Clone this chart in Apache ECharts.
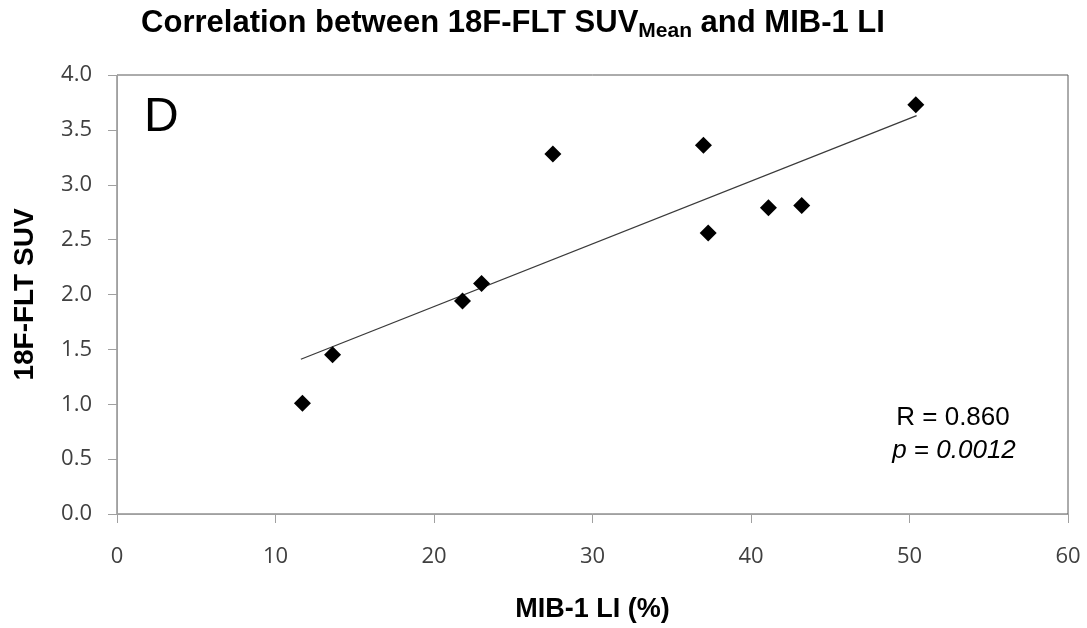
<!DOCTYPE html>
<html>
<head>
<meta charset="utf-8">
<script src="https://cdn.jsdelivr.net/npm/echarts@6/dist/echarts.min.js"></script>
<style>
html, body { margin: 0; padding: 0; background: #ffffff; }
#chart { width: 1087px; height: 628px; }
</style>
</head>
<body>
<div id="chart"></div>
<script>
// MIB-1 LI (%) for each case
const mibValues = [11.7, 13.6, 21.8, 23.0, 27.5, 37.0, 37.3, 41.1, 43.2, 50.4];
// 18F-FLT SUV (mean) for each case
const suvValues = [1.01, 1.45, 1.94, 2.10, 3.28, 3.36, 2.56, 2.79, 2.81, 3.73];
// Linear trend line end points
const trendX = [11.6, 50.45];
const trendY = [1.41, 3.63];

const titleMain = 'Correlation between 18F-FLT SUV';
const titleSub = 'Mean';
const titleEnd = ' and MIB-1 LI';
const xName = 'MIB-1 LI (%)';
const yName = '18F-FLT SUV';
const panelLetter = 'D';
const rText = 'R = 0.860';
const pLetter = 'p';
const pValue = '0.0012';

const ARIAL = '"Liberation Sans", Arial, sans-serif';
const TICKFONT = '"Open Sans", "Noto Sans", sans-serif';

const chart = echarts.init(document.getElementById('chart'));

const scatterData = mibValues.map((x, i) => [x, suvValues[i]]);
const trendData = trendX.map((x, i) => [x, trendY[i]]);

chart.setOption({
  backgroundColor: '#ffffff',
  animation: false,
  grid: {
    left: 117, right: 19, top: 75, bottom: 112,
    show: true, borderColor: '#595959', borderWidth: 1, backgroundColor: 'transparent'
  },
  xAxis: {
    type: 'value', min: 0, max: 60, interval: 10,
    name: xName, nameLocation: 'middle', nameGap: 82,
    nameTextStyle: { fontFamily: ARIAL, fontWeight: 'bold', fontSize: 27, color: '#000' },
    axisLine: { show: true, onZero: false, lineStyle: { color: '#a0a0a0', width: 1 } },
    axisTick: { show: true, length: 9, lineStyle: { color: '#a0a0a0' } },
    splitLine: { show: false },
    axisLabel: { fontFamily: TICKFONT, fontSize: 22, color: '#404040', margin: 32 }
  },
  yAxis: {
    type: 'value', min: 0, max: 4, interval: 0.5,
    name: yName, nameLocation: 'middle', nameGap: 78, nameRotate: 90,
    nameTextStyle: { fontFamily: ARIAL, fontWeight: 'bold', fontSize: 28, color: '#000' },
    axisLine: { show: true, onZero: false, lineStyle: { color: '#a0a0a0', width: 1 } },
    axisTick: { show: true, length: 9, lineStyle: { color: '#a0a0a0' } },
    splitLine: { show: false },
    axisLabel: {
      fontFamily: TICKFONT, fontSize: 22, color: '#404040', margin: 25,
      formatter: v => v.toFixed(1)
    }
  },
  series: [
    {
      type: 'line', data: trendData, showSymbol: false, symbol: 'none',
      lineStyle: { color: '#3a3a3a', width: 1.3 }, z: 2, silent: true
    },
    {
      type: 'scatter', data: scatterData, symbol: 'diamond', symbolSize: 17,
      itemStyle: { color: '#000000', opacity: 1 }, z: 3
    }
  ],
  graphic: [
    {
      type: 'text', x: 513, y: 4,
      style: {
        text: '{a|' + titleMain + '}{s|' + titleSub + '}{a|' + titleEnd + '}',
        textAlign: 'center', textVerticalAlign: 'top',
        rich: {
          a: { fontFamily: ARIAL, fontWeight: 'bold', fontSize: 31, lineHeight: 38, fill: '#000' },
          s: { fontFamily: ARIAL, fontWeight: 'bold', fontSize: 21, lineHeight: 21, verticalAlign: 'bottom', fill: '#000' }
        }
      }
    },
    {
      type: 'text', x: 144, y: 118,
      style: {
        text: panelLetter, fontFamily: ARIAL, fontSize: 48, fill: '#000',
        textAlign: 'left', textVerticalAlign: 'middle'
      }
    },
    {
      type: 'text', x: 953, y: 418,
      style: {
        text: rText, fontFamily: ARIAL, fontSize: 26, fill: '#000',
        textAlign: 'center', textVerticalAlign: 'middle'
      }
    },
    {
      type: 'text', x: 954, y: 451,
      style: {
        text: '{i|' + pLetter + '}{n| = }{i|' + pValue + '}',
        textAlign: 'center', textVerticalAlign: 'middle',
        rich: {
          i: { fontFamily: ARIAL, fontStyle: 'italic', fontSize: 26, fill: '#000' },
          n: { fontFamily: ARIAL, fontSize: 26, fill: '#000' }
        }
      }
    }
  ]
});
</script>
</body>
</html>
